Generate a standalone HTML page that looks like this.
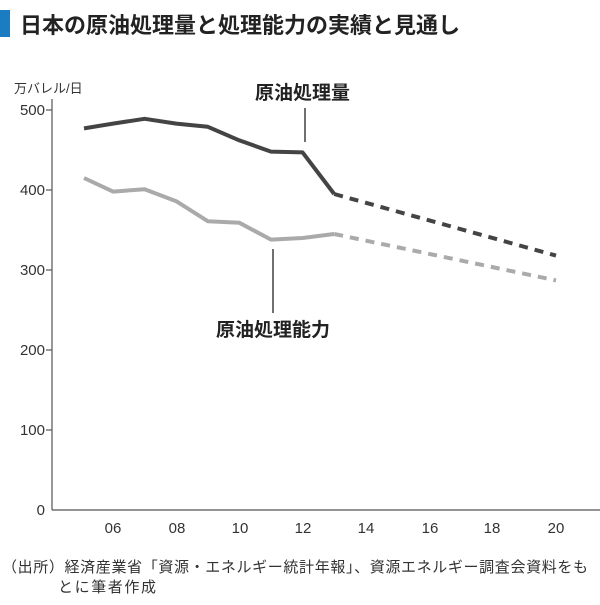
<!DOCTYPE html>
<html><head><meta charset="utf-8"><style>
html,body{margin:0;padding:0;background:#fff;}
body{width:600px;height:600px;overflow:hidden;}
text{font-family:"Liberation Sans","Noto Sans CJK JP",sans-serif;}
</style></head><body>
<svg width="600" height="600" viewBox="0 0 600 600" xmlns="http://www.w3.org/2000/svg">
<rect x="0" y="10" width="10" height="27" fill="#1a7cc1"/>
<text x="20" y="33" font-size="22" font-weight="bold" fill="#222" textLength="440" lengthAdjust="spacing">日本の原油処理量と処理能力の実績と見通し</text>
<text x="14" y="93" font-size="13" fill="#333">万バレル/日</text>
<g font-size="15" fill="#333" text-anchor="end">
<text x="45" y="115">500</text><text x="45" y="195">400</text><text x="45" y="275">300</text>
<text x="45" y="355">200</text><text x="45" y="435">100</text><text x="45" y="515">0</text>
</g>
<g stroke="#555" stroke-width="1.2">
<line x1="52" y1="99" x2="52" y2="510"/>
<line x1="52" y1="510" x2="600" y2="510"/>
<line x1="46" y1="110" x2="52" y2="110"/><line x1="46" y1="190" x2="52" y2="190"/>
<line x1="46" y1="270" x2="52" y2="270"/><line x1="46" y1="350" x2="52" y2="350"/>
<line x1="46" y1="430" x2="52" y2="430"/>
</g>
<g font-size="15" fill="#333" text-anchor="middle">
<text x="113" y="533">06</text><text x="177" y="533">08</text><text x="240" y="533">10</text>
<text x="303" y="533">12</text><text x="366" y="533">14</text><text x="430" y="533">16</text>
<text x="492" y="533">18</text><text x="556" y="533">20</text>
</g>
<polyline fill="none" stroke="#aaa" stroke-width="4" stroke-linejoin="round" points="84,178 113,191.6 144.6,189.2 176.2,201.2 207.8,221.2 239.4,222.8 271,239.6 302.6,238 334.2,234"/>
<line x1="334.2" y1="234" x2="556" y2="280.4" stroke="#aaa" stroke-width="4" stroke-dasharray="9,7"/>
<polyline fill="none" stroke="#444" stroke-width="4" stroke-linejoin="round" points="84,128.4 113,123.6 144.6,118.8 176.2,123.6 207.8,126.8 239.4,140.4 271,151.6 302.6,152.4 334.2,194"/>
<line x1="334.2" y1="194" x2="556" y2="255.6" stroke="#444" stroke-width="4" stroke-dasharray="9,7"/>
<line x1="305" y1="108" x2="305" y2="142" stroke="#222" stroke-width="1.3"/>
<line x1="273" y1="249" x2="273" y2="313" stroke="#222" stroke-width="1.3"/>
<text x="255" y="99" font-size="19" font-weight="bold" fill="#222">原油処理量</text>
<text x="216" y="336" font-size="19" font-weight="bold" fill="#222">原油処理能力</text>
<text x="2" y="572" font-size="15" fill="#333" textLength="586" lengthAdjust="spacing">（出所）経済産業省「資源・エネルギー統計年報」、資源エネルギー調査会資料をも</text>
<text x="58" y="592" font-size="15" fill="#333" textLength="98" lengthAdjust="spacing">とに筆者作成</text>
</svg>
</body></html>
